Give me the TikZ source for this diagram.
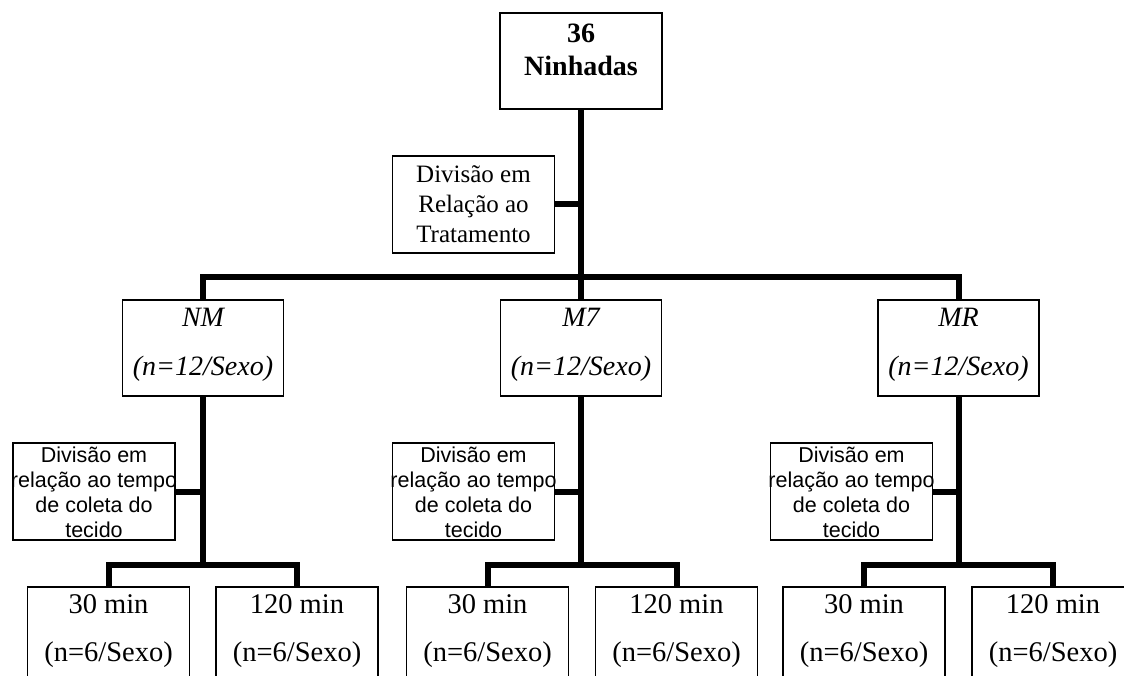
\documentclass[tikz,border=0pt]{standalone}
\usepackage{fontspec}
\setmainfont{Liberation Serif}
\newfontfamily\sansf{Liberation Sans}
\begin{document}
\begin{tikzpicture}[x=1pt,y=-1pt,
  box/.style={draw=black, line width=1.3pt, fill=white, inner sep=0pt, minimum width=162pt, minimum height=97pt},
  lowbox/.style={draw=black, line width=1.3pt, fill=white, inner sep=0pt, minimum width=162pt, minimum height=110pt},
  txt/.style={inner sep=0pt, align=center},
  conn/.style={draw=black, line width=6pt, line join=miter}
]
\useasboundingbox (0,0) rectangle (1124,676);
\clip (0,0) rectangle (1124,676);
\fill[white] (0,0) rectangle (1124,676);

% boxes
\node[box, minimum width=162pt, minimum height=96pt] (T) at (581,61) {};
\node[txt, font=\fontsize{28}{33}\selectfont\bfseries] (Tt) at ([yshift=11pt]T.center) {36\\Ninhadas};

\node[box] (D0) at (473.5,204.5) {};
\node[txt, font=\fontsize{25}{30}\selectfont] (D0t) at (D0.center) {Divisão em\\Relação ao\\Tratamento};

\node[box, minimum width=161pt, minimum height=96pt] (NM) at (203,348) {};
\node[box, minimum width=161pt, minimum height=96pt] (M7) at (581,348) {};
\node[box, minimum width=161pt, minimum height=96pt] (MR) at (958.5,348) {};
\node[txt, font=\fontsize{28}{49}\selectfont\itshape] (NMt) at ([yshift=3pt]NM.center) {NM\\(n=12/Sexo)};
\node[txt, font=\fontsize{28}{49}\selectfont\itshape] (M7t) at ([yshift=3pt]M7.center) {M7\\(n=12/Sexo)};
\node[txt, font=\fontsize{28}{49}\selectfont\itshape] (MRt) at ([yshift=3pt]MR.center) {MR\\(n=12/Sexo)};

\node[box] (D1) at (94,491.5) {};
\node[box] (D2) at (473.5,491.5) {};
\node[box] (D3) at (851.5,491.5) {};
\foreach \d in {D1,D2,D3}{
  \node[txt, font=\fontsize{21.5}{25}\selectfont\sansf] (\d t) at ([yshift=-1pt]\d.center) {Divisão em\\relação ao tempo\\de coleta do\\tecido};
}

\node[lowbox] (A1) at (108.5,642) {};
\node[lowbox] (A2) at (297,642) {};
\node[lowbox] (B1) at (487.5,642) {};
\node[lowbox] (B2) at (676.5,642) {};
\node[lowbox] (C1) at (864,642) {};
\node[lowbox] (C2) at (1053,642) {};
\foreach \b/\t in {A1/30 min,A2/120 min,B1/30 min,B2/120 min,C1/30 min,C2/120 min}{
  \node[txt, font=\fontsize{28.5}{48}\selectfont] (\b t) at ([yshift=11pt]\b.center) {\t\\(n=6/Sexo)};
}

% connectors
\coordinate (nmbar) at (203,565.5);
\coordinate (m7bar) at (581,565.5);
\coordinate (mrbar) at (958.5,565.5);

\draw[conn] (T.south) -- (M7.north);
\draw[conn] (NM.north) -- ++(0,-22) -| (MR.north);
\draw[conn] (D0.east) -- (D0.east -| T.south);

\draw[conn] (NM.south) -- (nmbar);
\draw[conn] (M7.south) -- (m7bar);
\draw[conn] (MR.south) -- (mrbar);
\draw[conn] (D1.east) -- (D1.east -| NM.south);
\draw[conn] (D2.east) -- (D2.east -| M7.south);
\draw[conn] (D3.east) -- (D3.east -| MR.south);

\draw[conn] (A1.north) -- ++(0,-21.5) -| (A2.north);
\draw[conn] (B1.north) -- ++(0,-21.5) -| (B2.north);
\draw[conn] (C1.north) -- ++(0,-21.5) -| (C2.north);
\end{tikzpicture}
\end{document}
